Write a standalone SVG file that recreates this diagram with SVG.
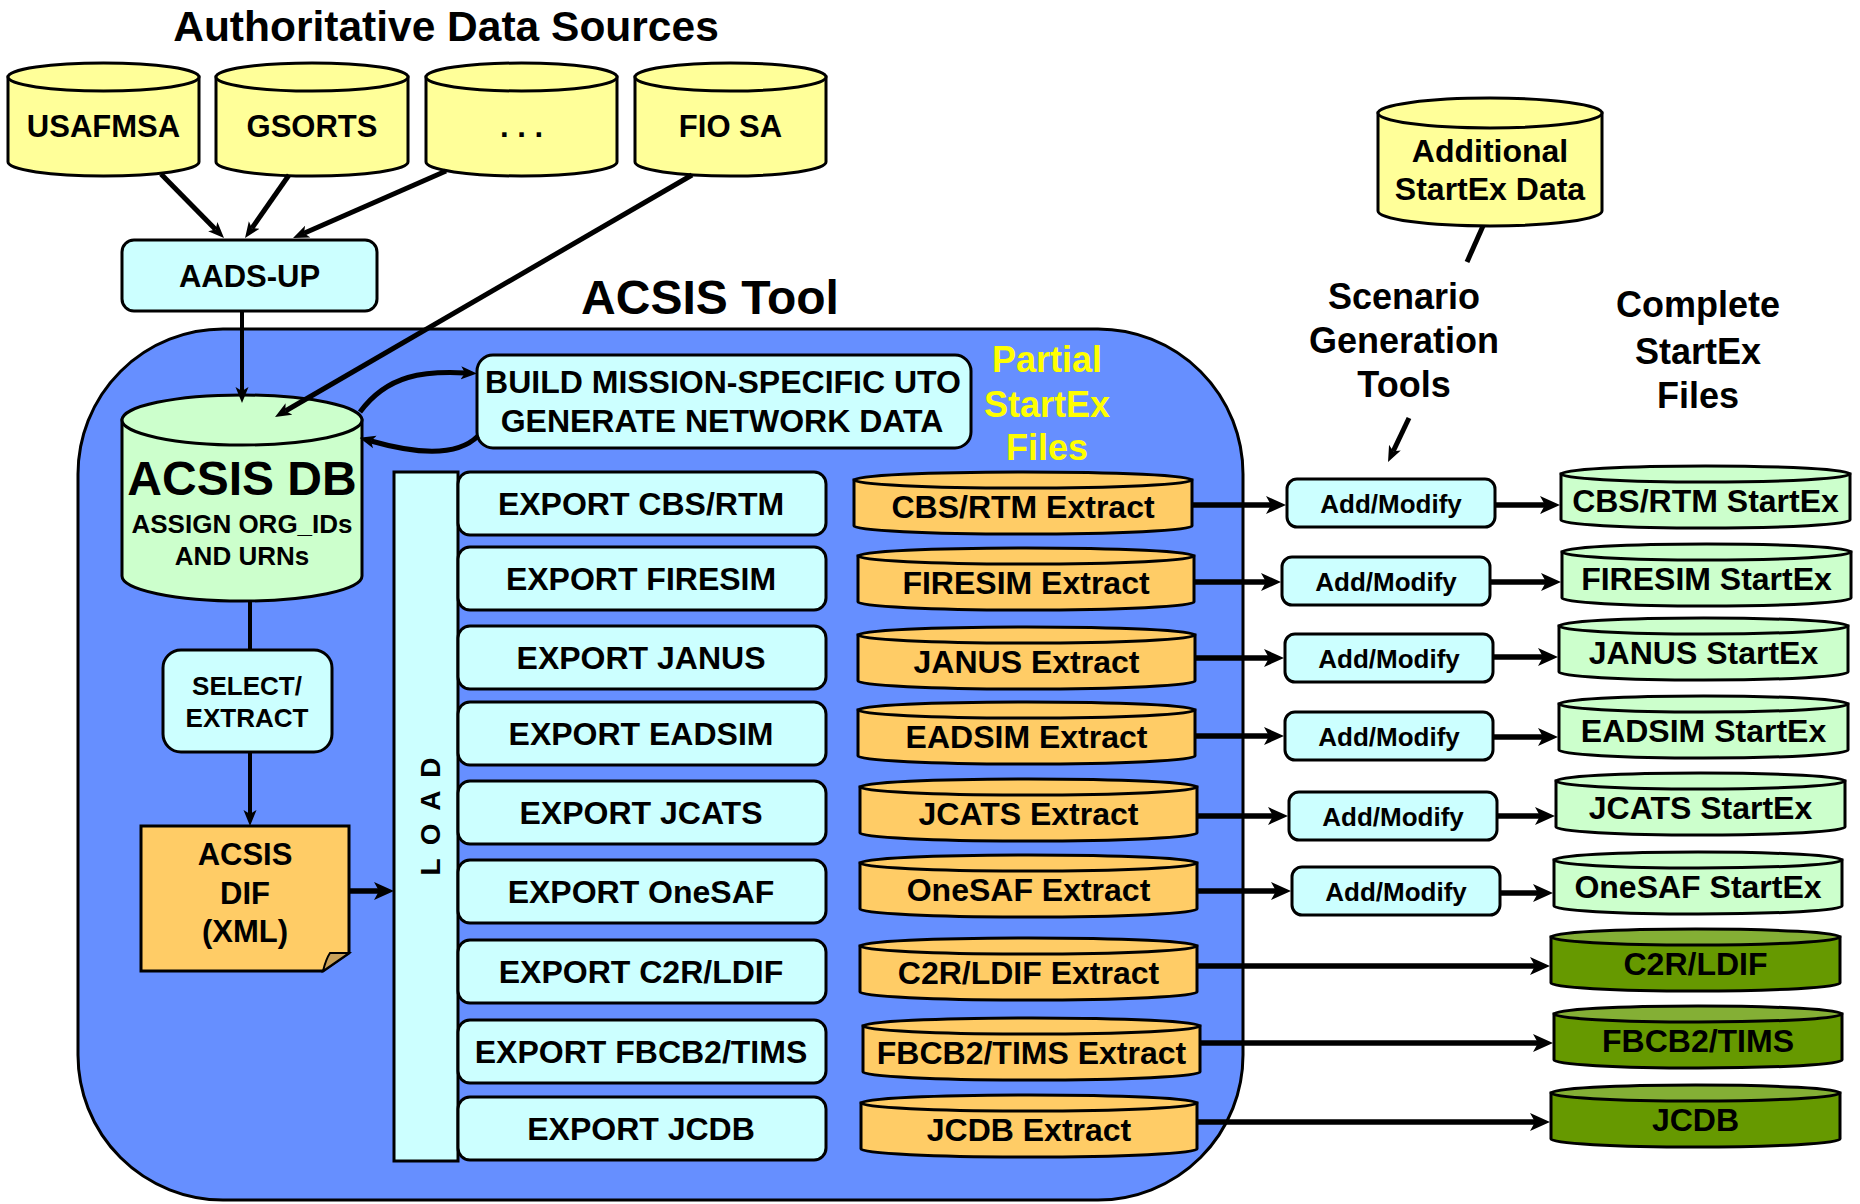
<svg xmlns="http://www.w3.org/2000/svg" width="1860" height="1204" viewBox="0 0 1860 1204">
<style>
.t{font-family:"Liberation Sans",Arial,Helvetica,sans-serif;font-weight:bold;text-anchor:middle;fill:#000}
.f32{font-size:32px}.f26{font-size:26px}.f36{font-size:36px}.f31{font-size:31px}
.sh{stroke:#000;stroke-width:3}
.y{fill:#FFFF99}.c{fill:#CCFFFF}.g{fill:#CCFFCC}.o{fill:#FFCC66}.dg{fill:#669900}.dgt{fill:#84AF35}
.ln{stroke:#000;fill:none}
</style>
<defs>
<marker id="ah" viewBox="0 0 20 20" refX="5" refY="10" markerWidth="20" markerHeight="20" markerUnits="userSpaceOnUse" orient="auto"><path d="M0,1 L20,10 L0,19 L5,10 Z" fill="#000"/></marker>
<marker id="ah2" viewBox="0 0 16 14" refX="4" refY="7" markerWidth="16" markerHeight="14" markerUnits="userSpaceOnUse" orient="auto"><path d="M0,0.5 L16,7 L0,13.5 L4,7 Z" fill="#000"/></marker>
</defs>
<rect width="1860" height="1204" fill="#fff"/>
<text class="t" x="446" y="41" font-size="42.5">Authoritative Data Sources</text>
<g id="acsis-tool">
<rect x="78" y="329" width="1165" height="871" rx="145" ry="145" fill="#668FFF" class="sh"/>
<text class="t" x="710" y="314" font-size="48">ACSIS Tool</text>
</g>
<g id="usafmsa"><path class="y sh" d="M8,77 V162 A95.5,14 0 0 0 199,162 V77 Z"/><ellipse class="y sh" cx="103.5" cy="77" rx="95.5" ry="14"/><text class="t f31" x="103.5" y="137">USAFMSA</text></g>
<g id="gsorts"><path class="y sh" d="M216,77 V162 A96,14 0 0 0 408,162 V77 Z"/><ellipse class="y sh" cx="312" cy="77" rx="96" ry="14"/><text class="t f31" x="312" y="137">GSORTS</text></g>
<g id="more-sources"><path class="y sh" d="M426,77 V162 A95.5,14 0 0 0 617,162 V77 Z"/><ellipse class="y sh" cx="521.5" cy="77" rx="95.5" ry="14"/><text class="t f31" x="521.5" y="137">. . .</text></g>
<g id="fio-sa"><path class="y sh" d="M635,77 V162 A95.5,14 0 0 0 826,162 V77 Z"/><ellipse class="y sh" cx="730.5" cy="77" rx="95.5" ry="14"/><text class="t f31" x="730.5" y="137">FIO SA</text></g>
<g id="aads-up"><rect class="c sh" x="122" y="240" width="255" height="71" rx="12"/><text class="t f31" x="249.5" y="287">AADS-UP</text></g>
<g id="acsis-db"><path class="g sh" d="M122,420 V576 A120,25 0 0 0 362,576 V420 Z"/><ellipse class="g sh" cx="242" cy="420" rx="120" ry="25"/>
<text class="t" x="242" y="495" font-size="48">ACSIS DB</text><text class="t f26" x="242" y="533">ASSIGN ORG_IDs</text><text class="t f26" x="242" y="565">AND URNs</text></g>
<g id="build"><rect class="c sh" x="477" y="355" width="494" height="93" rx="16"/><text class="t f32" x="723" y="393">BUILD MISSION-SPECIFIC UTO</text><text class="t f32" x="722" y="432">GENERATE NETWORK DATA</text></g>
<g id="partial-label"><text class="t f36" x="1047" y="372" style="fill:#FFFF00">Partial</text><text class="t f36" x="1047" y="417" style="fill:#FFFF00">StartEx</text><text class="t f36" x="1047" y="460" style="fill:#FFFF00">Files</text></g>
<g id="select-extract"><rect class="c sh" x="163" y="650" width="169" height="102" rx="18"/><text class="t f26" x="247" y="695">SELECT/</text><text class="t f26" x="247" y="727">EXTRACT</text></g>
<g id="acsis-dif"><path class="o sh" d="M141,826 H349 V953 L323,971 H141 Z"/><path d="M323,971 Q326,959 330,953 L349,953 Z" fill="#C9A15A" stroke="#000" stroke-width="2"/>
<text class="t f31" x="245" y="865">ACSIS</text><text class="t f31" x="245" y="904">DIF</text><text class="t f31" x="245" y="942">(XML)</text></g>
<g id="load"><rect class="c sh" x="394" y="472" width="64" height="689"/><text class="t" font-size="28" letter-spacing="3" transform="translate(440,815) rotate(-90)">L O A D</text></g>
<g id="exports">
<g id="export-cbs"><rect class="c sh" x="458" y="472" width="368" height="63" rx="12"/><text class="t f32" x="641" y="515">EXPORT CBS/RTM</text></g>
<g id="export-firesim"><rect class="c sh" x="458" y="547" width="368" height="63" rx="12"/><text class="t f32" x="641" y="590">EXPORT FIRESIM</text></g>
<g id="export-janus"><rect class="c sh" x="458" y="626" width="368" height="63" rx="12"/><text class="t f32" x="641" y="669">EXPORT JANUS</text></g>
<g id="export-eadsim"><rect class="c sh" x="458" y="702" width="368" height="63" rx="12"/><text class="t f32" x="641" y="745">EXPORT EADSIM</text></g>
<g id="export-jcats"><rect class="c sh" x="458" y="781" width="368" height="63" rx="12"/><text class="t f32" x="641" y="824">EXPORT JCATS</text></g>
<g id="export-onesaf"><rect class="c sh" x="458" y="860" width="368" height="63" rx="12"/><text class="t f32" x="641" y="903">EXPORT OneSAF</text></g>
<g id="export-c2r"><rect class="c sh" x="458" y="940" width="368" height="63" rx="12"/><text class="t f32" x="641" y="983">EXPORT C2R/LDIF</text></g>
<g id="export-fbcb2"><rect class="c sh" x="458" y="1020" width="368" height="63" rx="12"/><text class="t f32" x="641" y="1063">EXPORT FBCB2/TIMS</text></g>
<g id="export-jcdb"><rect class="c sh" x="458" y="1097" width="368" height="63" rx="12"/><text class="t f32" x="641" y="1140">EXPORT JCDB</text></g>
</g>
<g id="extracts">
<g id="x-cbs"><path class="o sh" d="M854,480 V526 A169,8 0 0 0 1192,526 V480 Z"/><ellipse class="o sh" cx="1023" cy="480" rx="169" ry="8"/><text class="t f32" x="1023" y="518">CBS/RTM Extract</text></g>
<g id="x-firesim"><path class="o sh" d="M858,556 V602 A168,8 0 0 0 1194,602 V556 Z"/><ellipse class="o sh" cx="1026" cy="556" rx="168" ry="8"/><text class="t f32" x="1026" y="594">FIRESIM Extract</text></g>
<g id="x-janus"><path class="o sh" d="M858,635 V681 A168.5,8 0 0 0 1195,681 V635 Z"/><ellipse class="o sh" cx="1026.5" cy="635" rx="168.5" ry="8"/><text class="t f32" x="1026.5" y="673">JANUS Extract</text></g>
<g id="x-eadsim"><path class="o sh" d="M858,710 V756 A168.5,8 0 0 0 1195,756 V710 Z"/><ellipse class="o sh" cx="1026.5" cy="710" rx="168.5" ry="8"/><text class="t f32" x="1026.5" y="748">EADSIM Extract</text></g>
<g id="x-jcats"><path class="o sh" d="M860,787 V833 A168.5,8 0 0 0 1197,833 V787 Z"/><ellipse class="o sh" cx="1028.5" cy="787" rx="168.5" ry="8"/><text class="t f32" x="1028.5" y="825">JCATS Extract</text></g>
<g id="x-onesaf"><path class="o sh" d="M860,863 V909 A168.5,8 0 0 0 1197,909 V863 Z"/><ellipse class="o sh" cx="1028.5" cy="863" rx="168.5" ry="8"/><text class="t f32" x="1028.5" y="901">OneSAF Extract</text></g>
<g id="x-c2r"><path class="o sh" d="M860,946 V992 A168.5,8 0 0 0 1197,992 V946 Z"/><ellipse class="o sh" cx="1028.5" cy="946" rx="168.5" ry="8"/><text class="t f32" x="1028.5" y="984">C2R/LDIF Extract</text></g>
<g id="x-fbcb2"><path class="o sh" d="M863,1026 V1072 A168.5,8 0 0 0 1200,1072 V1026 Z"/><ellipse class="o sh" cx="1031.5" cy="1026" rx="168.5" ry="8"/><text class="t f32" x="1031.5" y="1064">FBCB2/TIMS Extract</text></g>
<g id="x-jcdb"><path class="o sh" d="M861,1103 V1149 A168,8 0 0 0 1197,1149 V1103 Z"/><ellipse class="o sh" cx="1029" cy="1103" rx="168" ry="8"/><text class="t f32" x="1029" y="1141">JCDB Extract</text></g>
</g>
<g id="additional"><path class="y sh" d="M1378,113 V211 A112,15 0 0 0 1602,211 V113 Z"/><ellipse class="y sh" cx="1490" cy="113" rx="112" ry="15"/><text class="t f32" x="1490" y="162">Additional</text><text class="t f32" x="1490" y="200">StartEx Data</text></g>
<g id="scenario-label"><text class="t f36" x="1404" y="309">Scenario</text><text class="t f36" x="1404" y="353">Generation</text><text class="t f36" x="1404" y="397">Tools</text></g>
<g id="complete-label"><text class="t f36" x="1698" y="317">Complete</text><text class="t f36" x="1698" y="364">StartEx</text><text class="t f36" x="1698" y="408">Files</text></g>
<g id="add-modify">
<g id="am1"><rect class="c sh" x="1287" y="479" width="208" height="48" rx="10"/><text class="t f26" x="1391" y="513">Add/Modify</text></g>
<g id="am2"><rect class="c sh" x="1282" y="557" width="208" height="48" rx="10"/><text class="t f26" x="1386" y="591">Add/Modify</text></g>
<g id="am3"><rect class="c sh" x="1285" y="634" width="208" height="48" rx="10"/><text class="t f26" x="1389" y="668">Add/Modify</text></g>
<g id="am4"><rect class="c sh" x="1285" y="712" width="208" height="48" rx="10"/><text class="t f26" x="1389" y="746">Add/Modify</text></g>
<g id="am5"><rect class="c sh" x="1289" y="792" width="208" height="48" rx="10"/><text class="t f26" x="1393" y="826">Add/Modify</text></g>
<g id="am6"><rect class="c sh" x="1292" y="867" width="208" height="48" rx="10"/><text class="t f26" x="1396" y="901">Add/Modify</text></g>
</g>
<g id="startex">
<g id="s-cbs"><path class="g sh" d="M1561,474 V520 A144.5,8 0 0 0 1850,520 V474 Z"/><ellipse class="g sh" cx="1705.5" cy="474" rx="144.5" ry="8"/><text class="t f32" x="1705.5" y="512">CBS/RTM StartEx</text></g>
<g id="s-firesim"><path class="g sh" d="M1562,552 V598 A144.5,8 0 0 0 1851,598 V552 Z"/><ellipse class="g sh" cx="1706.5" cy="552" rx="144.5" ry="8"/><text class="t f32" x="1706.5" y="590">FIRESIM StartEx</text></g>
<g id="s-janus"><path class="g sh" d="M1559,626 V672 A144.5,8 0 0 0 1848,672 V626 Z"/><ellipse class="g sh" cx="1703.5" cy="626" rx="144.5" ry="8"/><text class="t f32" x="1703.5" y="664">JANUS StartEx</text></g>
<g id="s-eadsim"><path class="g sh" d="M1559,704 V750 A144.5,8 0 0 0 1848,750 V704 Z"/><ellipse class="g sh" cx="1703.5" cy="704" rx="144.5" ry="8"/><text class="t f32" x="1703.5" y="742">EADSIM StartEx</text></g>
<g id="s-jcats"><path class="g sh" d="M1556,781 V827 A144.5,8 0 0 0 1845,827 V781 Z"/><ellipse class="g sh" cx="1700.5" cy="781" rx="144.5" ry="8"/><text class="t f32" x="1700.5" y="819">JCATS StartEx</text></g>
<g id="s-onesaf"><path class="g sh" d="M1554,860 V906 A144,8 0 0 0 1842,906 V860 Z"/><ellipse class="g sh" cx="1698" cy="860" rx="144" ry="8"/><text class="t f32" x="1698" y="898">OneSAF StartEx</text></g>
<g id="s-c2r"><path class="dg sh" d="M1551,937 V983 A144.5,8 0 0 0 1840,983 V937 Z"/><ellipse class="dgt sh" cx="1695.5" cy="937" rx="144.5" ry="8"/><text class="t f32" x="1695.5" y="975">C2R/LDIF</text></g>
<g id="s-fbcb2"><path class="dg sh" d="M1554,1014 V1060 A144,8 0 0 0 1842,1060 V1014 Z"/><ellipse class="dgt sh" cx="1698" cy="1014" rx="144" ry="8"/><text class="t f32" x="1698" y="1052">FBCB2/TIMS</text></g>
<g id="s-jcdb"><path class="dg sh" d="M1551,1093 V1139 A144.5,8 0 0 0 1840,1139 V1093 Z"/><ellipse class="dgt sh" cx="1695.5" cy="1093" rx="144.5" ry="8"/><text class="t f32" x="1695.5" y="1131">JCDB</text></g>
</g>
<g id="connectors">
<g stroke-width="5" class="ln">
<line x1="161" y1="174" x2="215.6" y2="229.5" marker-end="url(#ah2)"/>
<line x1="289" y1="175" x2="251.9" y2="228.2" marker-end="url(#ah2)"/>
<line x1="446" y1="171" x2="304" y2="233.2" marker-end="url(#ah2)"/>
<line x1="692" y1="175" x2="285.4" y2="411" marker-end="url(#ah2)"/>
<path d="M360,412 C388,374 425,371 465,373" marker-end="url(#ah2)"/>
<path d="M478,436 C458,456 420,455 371,441" marker-end="url(#ah2)"/>
<line x1="1409" y1="418" x2="1393.2" y2="451.2" marker-end="url(#ah2)"/>
<line x1="1483" y1="226" x2="1467" y2="262"/>
</g>
<g stroke-width="4" class="ln">
<line x1="242" y1="311" x2="242" y2="391" marker-end="url(#ah2)"/>
<line x1="250" y1="601" x2="250" y2="650"/>
<line x1="250" y1="752" x2="250" y2="814" marker-end="url(#ah2)"/>
</g>
<g stroke-width="5.5" class="ln">
<line x1="349" y1="891" x2="379" y2="891" marker-end="url(#ah)"/>
<line x1="1192" y1="505" x2="1271" y2="505" marker-end="url(#ah)"/>
<line x1="1495" y1="505" x2="1545" y2="505" marker-end="url(#ah)"/>
<line x1="1194" y1="582" x2="1266" y2="582" marker-end="url(#ah)"/>
<line x1="1490" y1="582" x2="1546" y2="582" marker-end="url(#ah)"/>
<line x1="1195" y1="658" x2="1269" y2="658" marker-end="url(#ah)"/>
<line x1="1493" y1="657" x2="1543" y2="657" marker-end="url(#ah)"/>
<line x1="1195" y1="736" x2="1269" y2="736" marker-end="url(#ah)"/>
<line x1="1493" y1="737" x2="1543" y2="737" marker-end="url(#ah)"/>
<line x1="1197" y1="816" x2="1273" y2="816" marker-end="url(#ah)"/>
<line x1="1497" y1="816" x2="1540" y2="816" marker-end="url(#ah)"/>
<line x1="1197" y1="891" x2="1276" y2="891" marker-end="url(#ah)"/>
<line x1="1500" y1="893" x2="1538" y2="893" marker-end="url(#ah)"/>
<line x1="1197" y1="966" x2="1535" y2="966" marker-end="url(#ah)"/>
<line x1="1200" y1="1043" x2="1538" y2="1043" marker-end="url(#ah)"/>
<line x1="1197" y1="1122" x2="1535" y2="1122" marker-end="url(#ah)"/>
</g>
</g>
</svg>
